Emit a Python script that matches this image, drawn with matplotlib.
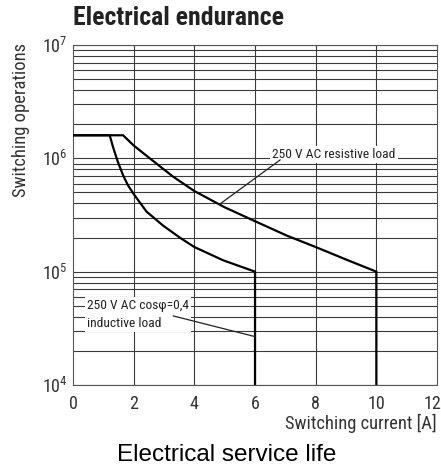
import matplotlib
matplotlib.use("Agg")
import matplotlib.pyplot as plt
import matplotlib.transforms as mtransforms
from matplotlib import font_manager
from matplotlib.ticker import LogLocator, NullFormatter, FixedLocator

# Data
res_current = [0.0, 1.65, 2.0, 2.75, 3.3, 4.0, 5.0, 6.05, 7.05, 8.0, 9.0, 10.0, 10.0]
res_ops = [1.6e6, 1.6e6, 1.3e6, 9.0e5, 6.9e5, 5.15e5, 3.7e5, 2.75e5, 2.08e5, 1.65e5, 1.28e5, 1.0e5, 1.0e4]

ind_current = [0.0, 1.21, 1.32, 1.48, 1.65, 1.81, 2.0, 2.42, 2.97, 3.52, 4.0, 4.95, 6.0, 6.0]
ind_ops = [1.6e6, 1.6e6, 1.26e6, 9.3e5, 7.1e5, 5.8e5, 4.85e5, 3.4e5, 2.55e5, 2.0e5, 1.65e5, 1.26e5, 1.0e5, 1.0e4]

x_ticks = [0, 2, 4, 6, 8, 10, 12]
x_grid = [2, 4, 6, 8, 10]


def first_font(names):
    for n in names:
        try:
            font_manager.findfont(font_manager.FontProperties(family=n), fallback_to_default=False)
            return n
        except Exception:
            pass
    return "DejaVu Sans"


cond = first_font(["Liberation Sans Narrow", "DejaVu Sans Condensed", "Roboto Condensed",
                   "Open Sans Condensed", "Roboto"])
narrow = [cond, "DejaVu Sans"]
plt.rcParams["font.family"] = narrow
plt.rcParams["mathtext.fontset"] = "custom"
plt.rcParams["mathtext.rm"] = cond
plt.rcParams["mathtext.it"] = cond
plt.rcParams["mathtext.bf"] = cond

fig = plt.figure(figsize=(4.41, 4.70), dpi=100)
ax = fig.add_axes([0.1655, 0.181, 0.8255, 0.723])

ax.set_xlim(0, 12)
ax.set_yscale("log")
ax.set_ylim(1e4, 1e7)

ax.xaxis.set_major_locator(FixedLocator(x_ticks))
ax.yaxis.set_major_locator(LogLocator(base=10, numticks=5))
ax.yaxis.set_minor_locator(LogLocator(base=10, subs=range(2, 10), numticks=20))
ax.yaxis.set_minor_formatter(NullFormatter())
ax.tick_params(which="both", length=0, labelsize=13, colors="#333333")
ax.tick_params(axis="x", pad=7)
ax.tick_params(axis="y", pad=4)

gc = "#3a3a3a"
for g in x_grid:
    ax.axvline(g, color=gc, lw=0.8, zorder=1)
ax.grid(True, axis="y", which="both", color=gc, lw=0.8, zorder=1)
ax.set_axisbelow(True)
for s in ax.spines.values():
    s.set_color("#555555")
    s.set_linewidth(0.8)

ax.plot(res_current, res_ops, color="black", lw=1.6, zorder=3, solid_joinstyle="round")
ax.plot(ind_current, ind_ops, color="black", lw=1.6, zorder=3, solid_joinstyle="round")

# labels with white boxes that break the grid
ax.text(6.57, 1.08e6, "250 V AC resistive load", fontsize=9.7, color="#222222",
        ha="left", va="center", zorder=4,
        bbox=dict(boxstyle="square,pad=0.15", fc="white", ec="none"))
ax.text(0.46, 4.2e4, "250 V AC cosφ=0,4\ninductive load", fontsize=9.7, color="#222222",
        ha="left", va="center", zorder=4, linespacing=1.45,
        bbox=dict(boxstyle="square,pad=0.15", fc="white", ec="none"))

# leader lines
ax.annotate("", xy=(4.84, 3.95e5), xytext=(6.83, 9.7e5), zorder=5,
            arrowprops=dict(arrowstyle="-", color="#222222", lw=0.9, shrinkA=0, shrinkB=0))
ax.annotate("", xy=(6.0, 2.67e4), xytext=(3.3, 4.07e4), zorder=5,
            arrowprops=dict(arrowstyle="-", color="#222222", lw=0.9, shrinkA=0, shrinkB=0))

# nudge the last x tick label so it stays inside the figure
fig.canvas.draw()
last = ax.get_xticklabels()[-1]
last.set_transform(last.get_transform() + mtransforms.ScaledTranslation(-5 / 100, 0, fig.dpi_scale_trans))

ax.set_ylabel("Switching operations", fontsize=13.3, color="#333333")
ax.yaxis.set_label_coords(-0.143, 0.78)
ax.yaxis.label.set_va("center")
ax.set_xlabel("Switching current [A]", fontsize=13.3, color="#333333", ha="right")
ax.xaxis.set_label_coords(1.0, -0.112)
ax.xaxis.label.set_va("center")

fig.text(0.1655, 0.962, "Electrical endurance", fontsize=18.5, fontweight="bold",
         color="#222222", ha="left", va="center", family=narrow)
fig.text(0.515, 0.032, "Electrical service life", fontsize=17.5, color="black",
         ha="center", va="center", family=["Liberation Sans", "DejaVu Sans"])

fig.savefig("out.png", dpi=100)
